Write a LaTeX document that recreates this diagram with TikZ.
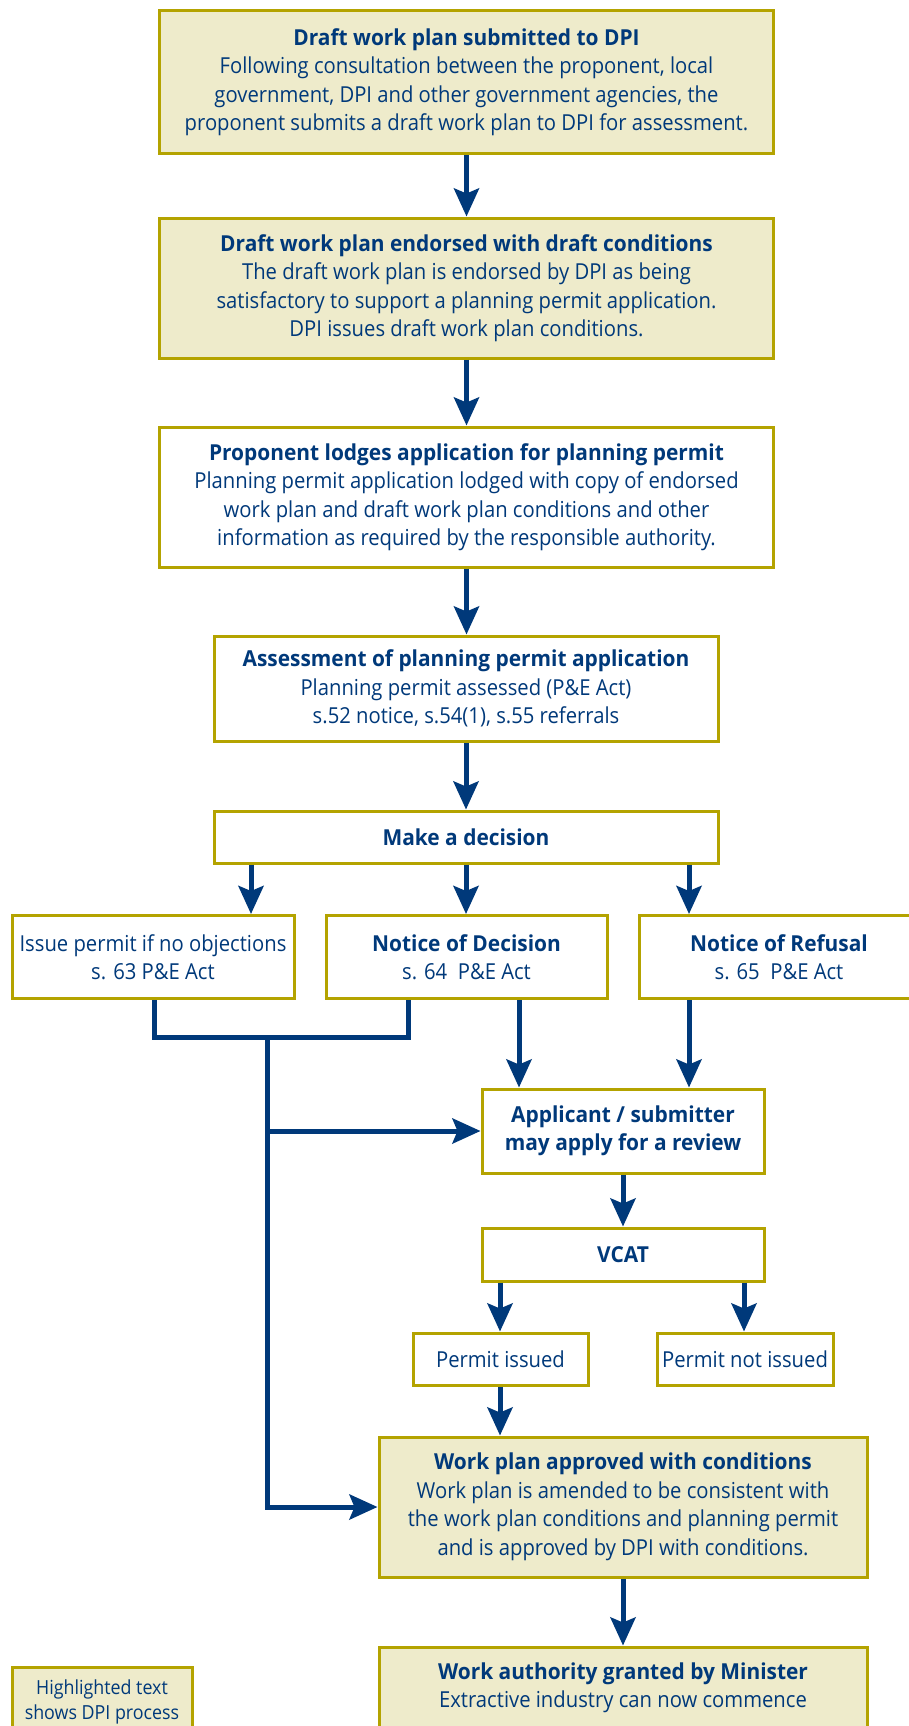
\documentclass[tikz,border=0pt]{standalone}
\usepackage{fontspec}
\setmainfont{Open Sans}[FakeStretch=0.92,BoldFeatures={FakeStretch=0.95}]
\usetikzlibrary{arrows.meta}
\definecolor{dpiblue}{RGB}{0,57,122}
\definecolor{dpigold}{RGB}{180,163,0}
\definecolor{dpifill}{RGB}{238,235,203}
\begin{document}
\begin{tikzpicture}[x=1pt,y=-1pt,
  box/.style={draw=dpigold, line width=3pt, text=dpiblue, align=center, inner sep=0pt,
    font=\fontsize{22}{28.5}\selectfont},
  hl/.style={box, fill=dpifill},
  plain/.style={box, fill=white},
  legendbox/.style={hl, font=\fontsize{19.4}{25}\selectfont},
  conn/.style={draw=dpiblue, line width=5pt, line join=miter},
  arr/.style={conn, -{Stealth[length=28pt,width=25pt,inset=5pt]}},
]
\useasboundingbox[fill=white] (0,0) rectangle (909,1726);
\begin{scope}
\clip (0,0) rectangle (909,1726);
% column / row helpers
\coordinate (xA) at (251,0);
\coordinate (xB) at (466,0);
\coordinate (xC) at (689,0);
\coordinate (xL1) at (154,0);
\coordinate (xL2) at (408,0);
\coordinate (xT) at (267,0);
\coordinate (xN) at (519,0);
\coordinate (xV) at (623,0);
\coordinate (xP1) at (500,0);
\coordinate (xP2) at (744,0);
\coordinate (yJ) at (0,1037);

\node[hl, minimum width=614, minimum height=143] (b1) at (466.5,82)
  {\textbf{Draft work plan submitted to DPI}\\Following consultation between the proponent, local\\government, DPI and other government agencies, the\\proponent submits a draft work plan to DPI for assessment.};
\node[hl, minimum width=614, minimum height=140] (b2) at (466.5,288)
  {\textbf{Draft work plan endorsed with draft conditions}\\The draft work plan is endorsed by DPI as being\\satisfactory to support a planning permit application.\\DPI issues draft work plan conditions.};
\node[plain, minimum width=614, minimum height=140] (b3) at (466.5,497)
  {\textbf{Proponent lodges application for planning permit}\\Planning permit application lodged with copy of endorsed\\work plan and draft work plan conditions and other\\information as required by the responsible authority.};
\node[plain, minimum width=504, minimum height=105] (b4) at (466,688.5)
  {\textbf{Assessment of planning permit application}\\Planning permit assessed (P\&E Act)\\s.52 notice, s.54(1), s.55 referrals};
\node[plain, minimum width=504, minimum height=52] (b5) at (466,837)
  {\textbf{Make a decision}};
\node[plain, minimum width=282, minimum height=83] (b6a) at (153,957)
  {Issue permit if no objections\\s. 63 P\&E Act};
\node[plain, minimum width=281, minimum height=83] (b6b) at (466.5,957)
  {\textbf{Notice of Decision}\\s. 64\ \ P\&E Act};
\node[plain, minimum width=280, minimum height=83] (b6c) at (779,957)
  {\textbf{Notice of Refusal}\\s. 65\ \ P\&E Act};
\node[plain, minimum width=282, minimum height=84] (b7) at (623,1131)
  {\textbf{Applicant / submitter}\\\textbf{may apply for a review}};
\node[plain, minimum width=282, minimum height=53] (b8) at (623,1254.5)
  {\textbf{VCAT}};
\node[plain, minimum width=175, minimum height=52] (b9a) at (500.5,1359)
  {Permit issued};
\node[plain, minimum width=176, minimum height=52] (b9b) at (745,1359)
  {Permit not issued};
\node[hl, minimum width=488, minimum height=140] (b10) at (623,1507)
  {\textbf{Work plan approved with conditions}\\Work plan is amended to be consistent with\\the work plan conditions and planning permit\\and is approved by DPI with conditions.};
\node[hl, minimum width=488, minimum height=82] (b11) at (623,1688)
  {\textbf{Work authority granted by Minister}\\Extractive industry can now commence};
\node[legendbox, minimum width=180, minimum height=70] (leg) at (102,1702)
  {Highlighted text\\shows DPI process};

% connectors
\draw[arr] (b1) -- (b2);
\draw[arr] (b2) -- (b3);
\draw[arr] (b3) -- (b4.north -| b3.south);
\draw[arr] (b4) -- (b5);
\draw[arr] (b5.south -| xA) -- (b6a.north -| xA);
\draw[arr] (b5.south -| xB) -- (b6b.north -| xB);
\draw[arr] (b5.south -| xC) -- (b6c.north -| xC);
\draw[conn] (b6a.south -| xL1) |- (yJ -| xL2) -- (b6b.south -| xL2);
\draw[arr] (yJ -| xT) |- (b10.west);
\draw[arr] (b7.west -| xT) -- (b7.west);
\draw[arr] (b6b.south -| xN) -- (b7.north -| xN);
\draw[arr] (b6c.south -| xC) -- (b7.north -| xC);
\draw[arr] (b7.south -| xV) -- (b8.north -| xV);
\draw[arr] (b8.south -| xP1) -- (b9a.north -| xP1);
\draw[arr] (b8.south -| xP2) -- (b9b.north -| xP2);
\draw[arr] (b9a.south -| xP1) -- (b10.north -| xP1);
\draw[arr] (b10.south -| xV) -- (b11.north -| xV);
\end{scope}
\end{tikzpicture}
\end{document}
